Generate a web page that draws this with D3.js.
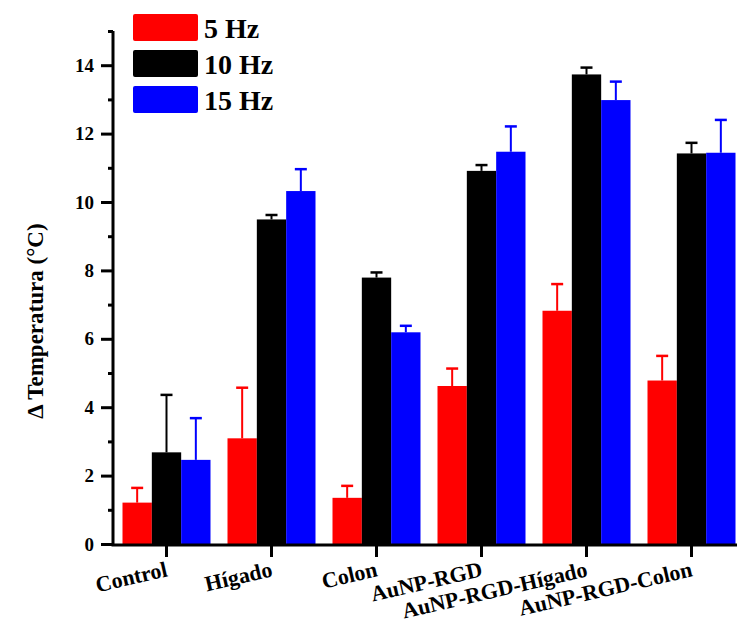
<!DOCTYPE html>
<html>
<head>
<meta charset="utf-8">
<script src="https://cdn.jsdelivr.net/npm/d3@7/dist/d3.min.js"></script>
<style>
  html, body { margin: 0; padding: 0; background: #fff; }
  svg { display: block; }
  text { font-family: "Liberation Serif", "Times New Roman", serif; font-weight: bold; fill: #000; }
</style>
</head>
<body>
<svg id="chart" width="737" height="623"></svg>
<script>
const categories = ["Control", "Hígado", "Colon", "AuNP-RGD", "AuNP-RGD-Hígado", "AuNP-RGD-Colon"];
const seriesNames = ["5 Hz", "10 Hz", "15 Hz"];
const seriesColors = ["#ff0000", "#000000", "#0000ff"];
const values5  = [1.21, 3.09, 1.35, 4.62, 6.82, 4.78];
const values10 = [2.68, 9.49, 7.79, 10.91, 13.73, 11.42];
const values15 = [2.46, 10.32, 6.19, 11.47, 12.98, 11.44];
const err5  = [0.43, 1.48, 0.35, 0.51, 0.78, 0.72];
const err10 = [1.68, 0.13, 0.15, 0.17, 0.20, 0.31];
const err15 = [1.22, 0.64, 0.19, 0.74, 0.54, 0.96];
const yMajorTicks = [0, 2, 4, 6, 8, 10, 12, 14];
const yMinorTicks = [1, 3, 5, 7, 9, 11, 13, 15];
const yTitle = "Δ Temperatura (°C)";

const seriesValues = [values5, values10, values15];
const seriesErrors = [err5, err10, err15];

const svg = d3.select("#chart");
const axisX = 113, y0px = 544, yTop = 31;

const y = d3.scaleLinear().domain([0, 15]).range([y0px, yTop]);
const pad = 17 / 105;
const x = d3.scaleBand().domain(categories).range([114, 744]).paddingInner(pad).paddingOuter(pad / 2);
const xs = d3.scaleBand().domain(d3.range(3)).range([0, x.bandwidth()]).padding(0);

const data = [];
categories.forEach((c, i) => {
  seriesNames.forEach((s, j) => {
    data.push({ cat: c, s: j, v: seriesValues[j][i], e: seriesErrors[j][i] });
  });
});

// error bars (behind bars)
const eg = svg.append("g");
data.forEach(d => {
  const cx = x(d.cat) + xs(d.s) + xs.bandwidth() / 2;
  eg.append("line")
    .attr("x1", cx).attr("x2", cx)
    .attr("y1", y(d.v)).attr("y2", y(d.v + d.e))
    .attr("stroke", seriesColors[d.s]).attr("stroke-width", 2);
  eg.append("line")
    .attr("x1", cx - 6).attr("x2", cx + 6)
    .attr("y1", y(d.v + d.e)).attr("y2", y(d.v + d.e))
    .attr("stroke", seriesColors[d.s]).attr("stroke-width", 2.5);
});

// bars
svg.append("g").selectAll("rect").data(data).join("rect")
  .attr("x", d => x(d.cat) + xs(d.s))
  .attr("width", xs.bandwidth())
  .attr("y", d => y(d.v))
  .attr("height", d => y(0) - y(d.v))
  .attr("fill", d => seriesColors[d.s]);

// y axis
const yAxis = d3.axisLeft(y).tickValues(yMajorTicks).tickSize(12).tickSizeOuter(0).tickPadding(7).tickFormat(d3.format("d"));
const yg = svg.append("g").attr("transform", `translate(${axisX},0)`).call(yAxis);
yg.select(".domain").attr("stroke-width", 3).attr("d", `M0,${y(0) + 1.5}V${y(15)}`);
yg.selectAll(".tick line").attr("stroke-width", 3);
yg.selectAll(".tick text").style("font-size", "19px");
const yMinor = d3.axisLeft(y).tickValues(yMinorTicks).tickSize(5).tickFormat("");
const ym = svg.append("g").attr("transform", `translate(${axisX},0)`).call(yMinor);
ym.select(".domain").remove();
ym.selectAll(".tick line").attr("stroke-width", 3);

// x axis
const xAxis = d3.axisBottom(x).tickSize(12).tickSizeOuter(0).tickFormat("");
const xg = svg.append("g").attr("transform", `translate(0,${y0px + 1})`).call(xAxis);
xg.select(".domain").attr("stroke-width", 3).attr("d", `M${axisX - 1.5},0H737`);
xg.selectAll(".tick line").attr("stroke-width", 3);

// x labels, rotated
svg.append("g").selectAll("text").data(categories).join("text")
  .attr("transform", d => `translate(${x(d) + x.bandwidth() / 2 + 2},${y0px + 32}) rotate(-13)`)
  .attr("text-anchor", "end")
  .style("font-size", "22px")
  .text(d => d);

// y title
svg.append("text")
  .attr("transform", `translate(43,321) rotate(-90)`)
  .attr("text-anchor", "middle")
  .style("font-size", "23px")
  .text(yTitle);

// legend
const lg = svg.append("g");
seriesNames.forEach((s, j) => {
  lg.append("rect").attr("x", 133).attr("y", 14 + j * 36).attr("width", 65).attr("height", 27)
    .attr("rx", 2).attr("fill", seriesColors[j]);
  lg.append("text").attr("x", 204).attr("y", 14 + j * 36 + 24)
    .style("font-size", "28px").text(s);
});
</script>
</body>
</html>
